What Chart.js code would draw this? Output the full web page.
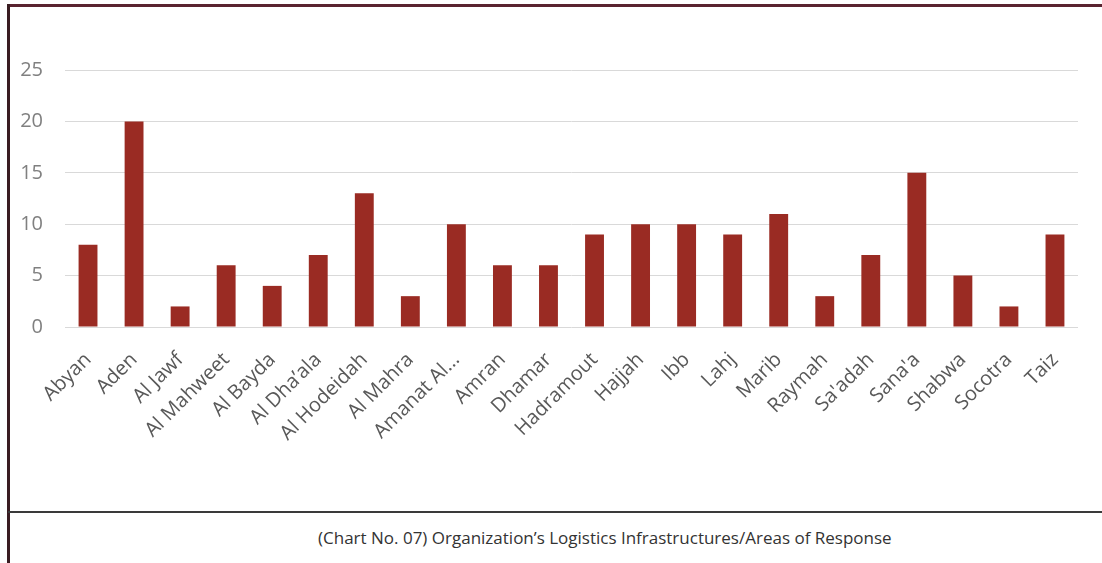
<!DOCTYPE html>
<html>
<head>
<meta charset="utf-8">
<script src="https://cdn.jsdelivr.net/npm/chart.js@4/dist/chart.umd.min.js"></script>
<style>
  html, body { margin: 0; padding: 0; background: #fff; }
  #frame { position: relative; width: 1102px; height: 563px; overflow: hidden; }
  #topLine { position: absolute; left: 7px; top: 4px; width: 1095px; height: 3px; background: #5a2330; }
  #leftLine { position: absolute; left: 7px; top: 4px; width: 3px; height: 559px; background: #3a1d22; }
  #divider { position: absolute; left: 8px; top: 511px; width: 1094px; height: 2px; background: #3a3a3a; }
  #caption { position: absolute; left: 318px; top: 526px; font-family: "Open Sans", sans-serif; font-size: 17px; color: #333; white-space: nowrap; }
  #chartBox { position: absolute; left: 10px; top: 7px; width: 1092px; height: 503px; }
</style>
</head>
<body>
<div id="frame">
  <div id="chartBox"><canvas id="areasChart"></canvas></div>
  <div id="topLine"></div>
  <div id="leftLine"></div>
  <div id="divider"></div>
  <div id="caption">(Chart No. 07) Organization’s Logistics Infrastructures/Areas of Response</div>
</div>
<script>
var governorates = ['Abyan', 'Aden', 'Al Jawf', 'Al Mahweet', 'Al Bayda', 'Al Dha’ala', 'Al Hodeidah',
    'Al Mahra', 'Amanat Al...', 'Amran', 'Dhamar', 'Hadramout', 'Hajjah', 'Ibb', 'Lahj', 'Marib',
    'Raymah', "Sa'adah", "Sana'a", 'Shabwa', 'Socotra', 'Taiz'];
var infrastructures = [8, 20, 2, 6, 4, 7, 13, 3, 10, 6, 6, 9, 10, 10, 9, 11, 3, 7, 15, 5, 2, 9];
var yTicks = [0, 5, 10, 15, 20, 25];

var ctx = document.getElementById('areasChart');
new Chart(ctx, {
    type: 'bar',
    data: {
        labels: governorates,
        datasets: [{
            label: 'Areas of Response',
            data: infrastructures,
            backgroundColor: '#9a2b23',
            barPercentage: 0.41,
            categoryPercentage: 1.0
        }]
    },
    options: {
        responsive: true,
        maintainAspectRatio: false,
        animation: false,
        layout: { padding: { top: 63, right: 24, left: 0, bottom: 0 } },
        plugins: {
            legend: { display: false },
            title: { display: false },
            tooltip: { enabled: false }
        },
        scales: {
            x: {
                grid: { display: false, drawTicks: false },
                border: { display: false },
                ticks: {
                    color: '#595959',
                    font: { family: 'Open Sans', size: 20 },
                    maxRotation: 45,
                    minRotation: 45,
                    autoSkip: false,
                    padding: 21
                },
                afterFit: function(scale) { scale.height = 183; }
            },
            y: {
                min: 0,
                max: 25,
                afterBuildTicks: function(scale) {
                    scale.ticks = yTicks.map(function(v) { return { value: v }; });
                },
                grid: { color: '#d9d9d9', lineWidth: 1, drawTicks: false },
                border: { display: false },
                ticks: {
                    color: '#808080',
                    font: { family: 'Open Sans', size: 20 },
                    padding: 22
                },
                afterFit: function(scale) { scale.width = 55; }
            }
        }
    }
});
</script>
</body>
</html>
